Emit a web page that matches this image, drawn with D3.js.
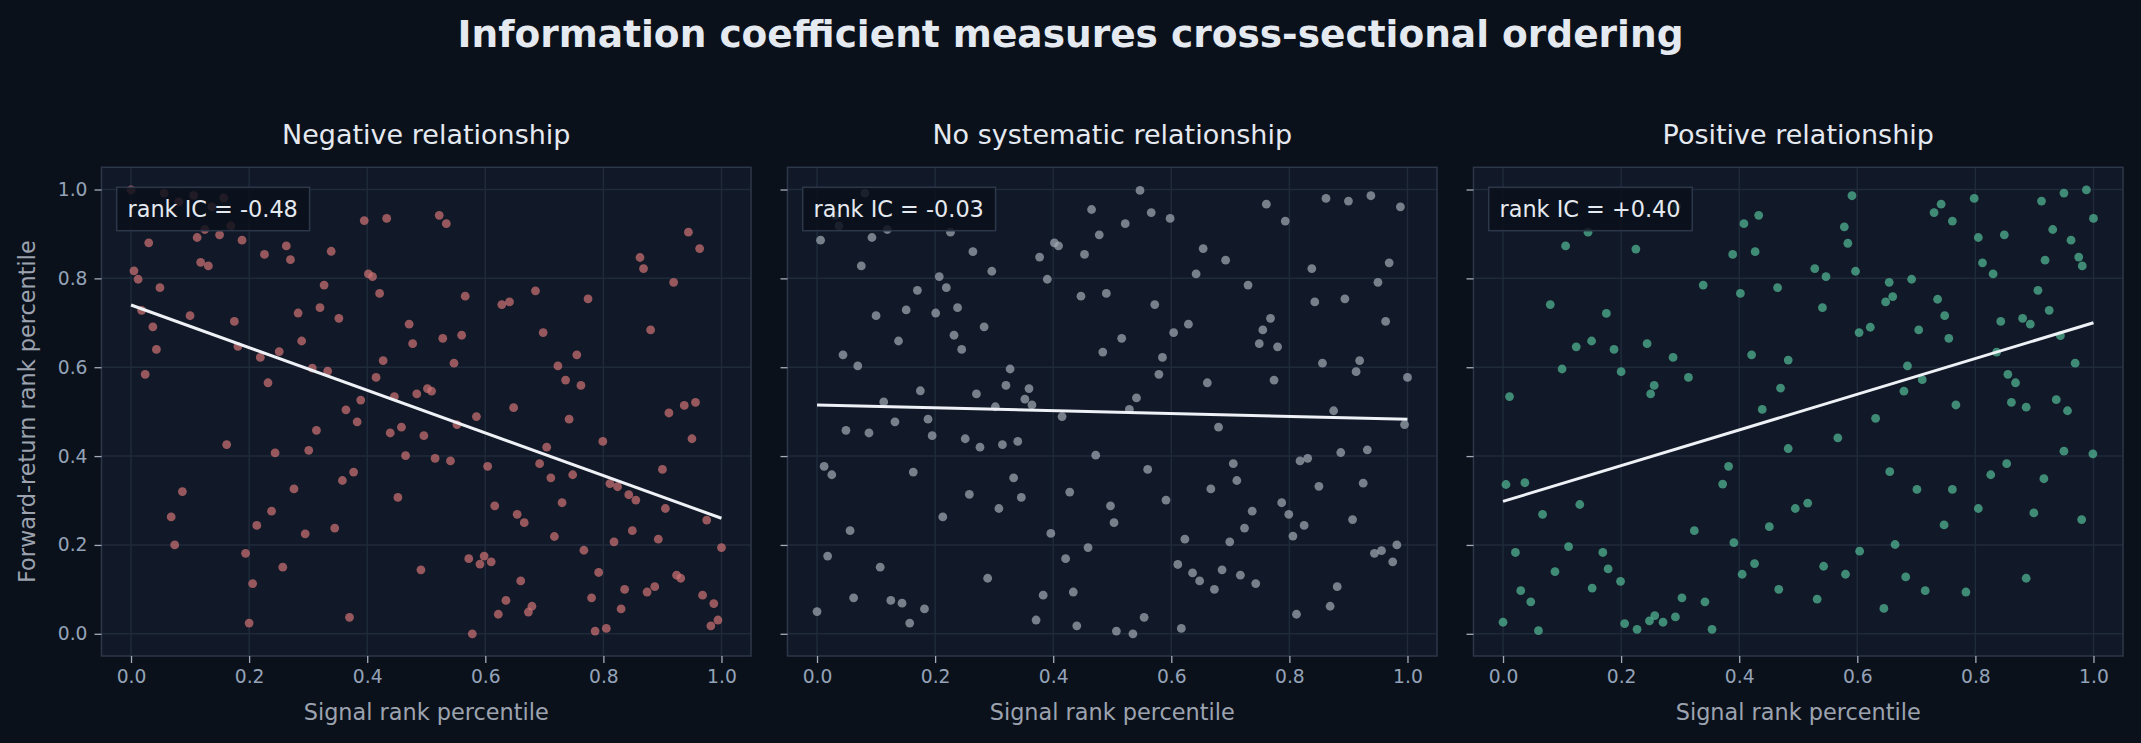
<!DOCTYPE html>
<html>
<head>
<meta charset="utf-8">
<script src="https://cdn.jsdelivr.net/npm/d3@7"></script>
<style>
  html, body { margin: 0; padding: 0; background: #0b111b; }
  svg { display: block; }
</style>
</head>
<body>
<div id="chart"></div>
<script>
// ── Data ──────────────────────────────────────
const PANEL_TITLES = ["Negative relationship", "No systematic relationship", "Positive relationship"];
const IC_LABELS    = ["rank IC = -0.48", "rank IC = -0.03", "rank IC = +0.40"];
const TICKS        = [0, 0.2, 0.4, 0.6, 0.8, 1.0];

// fitted line: y at x=0 and at x=1
const FIT_NEG  = [0.740, 0.260];
const FIT_NONE = [0.515, 0.483];
const FIT_POS  = [0.298, 0.700];

const NEG_POINTS = [
  [0.000,0.999],[0.056,0.992],[0.081,0.972],[0.106,0.987],[0.137,0.961],[0.157,0.981],[0.169,0.918],[0.125,0.910],
  [0.112,0.892],[0.150,0.898],[0.188,0.886],[0.030,0.880],[0.395,0.930],[0.433,0.935],[0.226,0.854],[0.263,0.873],
  [0.270,0.842],[0.339,0.861],[0.118,0.836],[0.131,0.828],[0.005,0.817],[0.012,0.798],[0.049,0.779],[0.402,0.810],
  [0.409,0.804],[0.327,0.785],[0.421,0.766],[0.018,0.728],[0.100,0.716],[0.175,0.703],[0.037,0.691],[0.283,0.722],
  [0.320,0.734],[0.352,0.710],[0.471,0.697],[0.043,0.640],[0.181,0.647],[0.289,0.659],[0.477,0.653],[0.219,0.622],
  [0.251,0.635],[0.427,0.615],[0.307,0.598],[0.333,0.591],[0.024,0.584],[0.232,0.565],[0.415,0.577],[0.389,0.526],
  [0.446,0.534],[0.484,0.540],[0.502,0.552],[0.364,0.504],[0.522,0.942],[0.534,0.923],[0.944,0.904],[0.963,0.867],
  [0.862,0.847],[0.868,0.822],[0.919,0.791],[0.566,0.760],[0.628,0.741],[0.641,0.747],[0.685,0.772],[0.774,0.754],
  [0.528,0.665],[0.560,0.672],[0.698,0.678],[0.880,0.684],[0.547,0.609],[0.755,0.628],[0.723,0.603],[0.736,0.571],
  [0.762,0.559],[0.509,0.546],[0.648,0.509],[0.937,0.514],[0.956,0.521],[0.911,0.497],[0.383,0.477],[0.314,0.458],
  [0.439,0.452],[0.458,0.465],[0.496,0.446],[0.162,0.426],[0.244,0.407],[0.301,0.413],[0.465,0.401],[0.377,0.364],
  [0.358,0.345],[0.276,0.326],[0.087,0.320],[0.452,0.307],[0.068,0.263],[0.238,0.276],[0.213,0.244],[0.345,0.238],
  [0.295,0.225],[0.074,0.200],[0.194,0.181],[0.257,0.150],[0.206,0.113],[0.491,0.144],[0.370,0.037],[0.200,0.024],
  [0.585,0.489],[0.552,0.471],[0.742,0.483],[0.950,0.439],[0.799,0.433],[0.704,0.420],[0.515,0.395],[0.541,0.389],
  [0.604,0.377],[0.692,0.383],[0.900,0.370],[0.711,0.351],[0.748,0.358],[0.811,0.338],[0.824,0.331],[0.843,0.313],
  [0.855,0.301],[0.616,0.288],[0.730,0.295],[0.905,0.282],[0.654,0.269],[0.666,0.250],[0.975,0.256],[0.717,0.219],
  [0.849,0.232],[0.893,0.213],[0.818,0.207],[1.000,0.194],[0.767,0.188],[0.572,0.169],[0.598,0.175],[0.591,0.157],
  [0.610,0.162],[0.792,0.138],[0.924,0.132],[0.931,0.125],[0.660,0.119],[0.836,0.100],[0.874,0.094],[0.887,0.106],
  [0.968,0.087],[0.987,0.068],[0.635,0.075],[0.679,0.062],[0.673,0.049],[0.622,0.044],[0.780,0.081],[0.830,0.056],
  [0.982,0.018],[0.994,0.031],[0.578,0.000],[0.786,0.006],[0.805,0.012]
];

const NONE_POINTS = [
  [0.081,0.992],[0.031,0.942],[0.037,0.918],[0.119,0.910],[0.226,0.904],[0.006,0.886],[0.093,0.892],[0.465,0.955],
  [0.478,0.898],[0.402,0.880],[0.409,0.873],[0.453,0.854],[0.264,0.860],[0.377,0.848],[0.296,0.816],[0.075,0.828],
  [0.207,0.804],[0.219,0.779],[0.170,0.773],[0.390,0.798],[0.447,0.760],[0.490,0.766],[0.100,0.716],[0.151,0.729],
  [0.201,0.722],[0.238,0.734],[0.283,0.691],[0.138,0.659],[0.232,0.672],[0.245,0.640],[0.484,0.634],[0.044,0.628],
  [0.069,0.603],[0.327,0.596],[0.320,0.559],[0.359,0.552],[0.175,0.547],[0.270,0.540],[0.352,0.528],[0.113,0.522],
  [0.302,0.511],[0.364,0.515],[0.547,0.998],[0.522,0.923],[0.566,0.948],[0.598,0.935],[0.761,0.967],[0.793,0.929],
  [0.862,0.980],[0.900,0.974],[0.938,0.986],[0.988,0.961],[0.654,0.867],[0.692,0.841],[0.642,0.810],[0.838,0.822],
  [0.969,0.835],[0.730,0.785],[0.950,0.791],[0.572,0.741],[0.843,0.747],[0.894,0.754],[0.768,0.710],[0.755,0.684],
  [0.749,0.653],[0.780,0.646],[0.963,0.703],[0.629,0.697],[0.604,0.678],[0.516,0.665],[0.585,0.622],[0.856,0.609],
  [0.919,0.615],[0.913,0.590],[0.579,0.584],[0.661,0.565],[0.774,0.571],[1.000,0.577],[0.541,0.531],[0.529,0.505],
  [0.875,0.502],[0.415,0.489],[0.049,0.458],[0.088,0.452],[0.132,0.477],[0.188,0.483],[0.195,0.446],[0.251,0.439],
  [0.276,0.420],[0.314,0.426],[0.340,0.433],[0.472,0.402],[0.012,0.377],[0.025,0.358],[0.163,0.364],[0.333,0.351],
  [0.258,0.314],[0.346,0.307],[0.428,0.319],[0.308,0.282],[0.497,0.288],[0.503,0.250],[0.213,0.263],[0.056,0.232],
  [0.396,0.226],[0.459,0.194],[0.018,0.175],[0.107,0.150],[0.421,0.169],[0.289,0.125],[0.062,0.081],[0.125,0.075],
  [0.144,0.069],[0.182,0.056],[0.383,0.087],[0.434,0.094],[0.000,0.050],[0.157,0.024],[0.371,0.031],[0.440,0.018],
  [0.507,0.006],[0.680,0.465],[0.995,0.471],[0.560,0.370],[0.705,0.383],[0.711,0.345],[0.667,0.326],[0.591,0.301],
  [0.818,0.389],[0.831,0.395],[0.887,0.408],[0.932,0.414],[0.850,0.332],[0.925,0.339],[0.787,0.295],[0.799,0.269],
  [0.737,0.276],[0.724,0.238],[0.825,0.244],[0.907,0.257],[0.806,0.220],[0.623,0.213],[0.699,0.207],[0.944,0.181],
  [0.956,0.187],[0.982,0.200],[0.975,0.162],[0.611,0.156],[0.636,0.137],[0.648,0.119],[0.686,0.144],[0.717,0.132],
  [0.743,0.113],[0.673,0.100],[0.881,0.106],[0.869,0.062],[0.812,0.044],[0.554,0.037],[0.535,0.000],[0.617,0.012]
];

const POS_POINTS = [
  [0.144,0.904],[0.106,0.873],[0.225,0.866],[0.294,0.962],[0.408,0.923],[0.433,0.942],[0.389,0.854],[0.427,0.860],
  [0.339,0.785],[0.402,0.766],[0.465,0.779],[0.080,0.741],[0.175,0.721],[0.124,0.646],[0.150,0.659],[0.188,0.640],
  [0.244,0.653],[0.288,0.622],[0.421,0.628],[0.483,0.616],[0.100,0.596],[0.200,0.590],[0.314,0.577],[0.256,0.559],
  [0.250,0.540],[0.470,0.553],[0.011,0.534],[0.439,0.505],[0.591,0.986],[0.578,0.916],[0.584,0.879],[0.597,0.816],
  [0.528,0.822],[0.547,0.804],[0.541,0.734],[0.730,0.948],[0.742,0.967],[0.761,0.929],[0.798,0.980],[0.805,0.892],
  [0.849,0.898],[0.812,0.835],[0.830,0.810],[0.912,0.974],[0.950,0.992],[0.988,0.999],[1.000,0.935],[0.931,0.910],
  [0.962,0.886],[0.975,0.848],[0.981,0.828],[0.918,0.841],[0.654,0.791],[0.692,0.798],[0.660,0.759],[0.648,0.747],
  [0.736,0.753],[0.748,0.716],[0.906,0.773],[0.925,0.728],[0.843,0.703],[0.880,0.710],[0.893,0.697],[0.603,0.678],
  [0.622,0.690],[0.704,0.684],[0.755,0.665],[0.944,0.671],[0.836,0.634],[0.969,0.609],[0.685,0.603],[0.710,0.572],
  [0.679,0.546],[0.855,0.584],[0.868,0.565],[0.861,0.521],[0.886,0.510],[0.937,0.527],[0.767,0.515],[0.956,0.502],
  [0.000,0.026],[0.005,0.336],[0.037,0.340],[0.021,0.183],[0.030,0.097],[0.047,0.072],[0.060,0.007],[0.067,0.269],
  [0.088,0.140],[0.111,0.196],[0.130,0.291],[0.151,0.103],[0.169,0.183],[0.178,0.146],[0.199,0.118],[0.206,0.023],
  [0.227,0.010],[0.248,0.029],[0.257,0.041],[0.271,0.026],[0.292,0.038],[0.303,0.081],[0.324,0.232],[0.342,0.072],
  [0.354,0.010],[0.372,0.337],[0.382,0.377],[0.391,0.205],[0.405,0.134],[0.426,0.158],[0.451,0.241],[0.467,0.100],
  [0.483,0.417],[0.495,0.282],[0.516,0.294],[0.532,0.078],[0.543,0.152],[0.567,0.441],[0.580,0.134],[0.604,0.186],
  [0.631,0.485],[0.645,0.057],[0.655,0.365],[0.664,0.201],[0.682,0.128],[0.701,0.325],[0.715,0.097],[0.747,0.245],
  [0.761,0.325],[0.784,0.094],[0.805,0.282],[0.826,0.358],[0.853,0.383],[0.886,0.125],[0.899,0.272],[0.916,0.349],
  [0.950,0.411],[0.980,0.257],[0.999,0.405]
];

const PANELS = [
  { points: NEG_POINTS,  fit: FIT_NEG,  color: "#cc7173" },
  { points: NONE_POINTS, fit: FIT_NONE, color: "#a0a7b3" },
  { points: POS_POINTS,  fit: FIT_POS,  color: "#52b896" }
];

// ── Layout ───────────────────────────────────
const W = 2141, H = 743;
const FONT = "'DejaVu Sans', sans-serif";
const panelW = 649.5, panelH = 488.7;
const left0 = 101.5, top0 = 167.3, gap = 36.5;

const svg = d3.select("#chart").append("svg")
  .attr("width", W).attr("height", H);

svg.append("rect").attr("width", W).attr("height", H).attr("fill", "#0b111b");

svg.append("text")
  .attr("x", W / 2).attr("y", 46.5)
  .attr("text-anchor", "middle")
  .attr("font-family", FONT).attr("font-weight", "bold")
  .attr("font-size", "37.5px").attr("fill", "#e5e9f0")
  .text("Information coefficient measures cross-sectional ordering");

const x = d3.scaleLinear().domain([-0.05, 1.05]).range([0, panelW]);
const y = d3.scaleLinear().domain([-0.05, 1.05]).range([panelH, 0]);

PANELS.forEach((p, i) => {
  const g = svg.append("g")
    .attr("transform", `translate(${left0 + i * (panelW + gap)},${top0})`);

  g.append("rect")
    .attr("width", panelW).attr("height", panelH)
    .attr("fill", "#111827");

  // grid
  g.append("g").selectAll("line").data(TICKS).join("line")
    .attr("x1", d => x(d)).attr("x2", d => x(d))
    .attr("y1", 0).attr("y2", panelH)
    .attr("stroke", "#1f2a3b").attr("stroke-width", 1.5);
  g.append("g").selectAll("line").data(TICKS).join("line")
    .attr("y1", d => y(d)).attr("y2", d => y(d))
    .attr("x1", 0).attr("x2", panelW)
    .attr("stroke", "#1f2a3b").attr("stroke-width", 1.5);

  // points
  g.append("g").selectAll("circle").data(p.points).join("circle")
    .attr("cx", d => x(d[0])).attr("cy", d => y(d[1]))
    .attr("r", 4.4)
    .attr("fill", p.color).attr("fill-opacity", 0.72);

  // fitted line
  g.append("line")
    .attr("x1", x(0)).attr("y1", y(p.fit[0]))
    .attr("x2", x(1)).attr("y2", y(p.fit[1]))
    .attr("stroke", "#eef1f6").attr("stroke-width", 3);

  // frame
  g.append("rect")
    .attr("width", panelW).attr("height", panelH)
    .attr("fill", "none").attr("stroke", "#2c3749").attr("stroke-width", 1.5);

  // x axis
  const xAxis = g.append("g")
    .attr("transform", `translate(0,${panelH})`)
    .call(d3.axisBottom(x).tickValues(TICKS).tickFormat(d3.format(".1f"))
      .tickSize(7).tickPadding(7));
  xAxis.select(".domain").remove();
  xAxis.selectAll(".tick line").attr("stroke", "#a3acba").attr("stroke-width", 1.3);
  xAxis.selectAll("text")
    .attr("font-family", FONT).attr("font-size", "18.7px").attr("fill", "#94a3b8");

  // y axis (labels only on first panel)
  const yAxis = g.append("g")
    .call(d3.axisLeft(y).tickValues(TICKS)
      .tickFormat(i === 0 ? d3.format(".1f") : "")
      .tickSize(7).tickPadding(7));
  yAxis.select(".domain").remove();
  yAxis.selectAll(".tick line").attr("stroke", "#a3acba").attr("stroke-width", 1.3);
  yAxis.selectAll("text")
    .attr("font-family", FONT).attr("font-size", "18.7px").attr("fill", "#94a3b8");

  g.append("text")
    .attr("x", panelW / 2).attr("y", panelH + 64)
    .attr("text-anchor", "middle")
    .attr("font-family", FONT).attr("font-size", "22.4px").attr("fill", "#9ca3af")
    .text("Signal rank percentile");

  if (i === 0) {
    g.append("text")
      .attr("transform", `translate(${-67},${panelH / 2}) rotate(-90)`)
      .attr("text-anchor", "middle")
      .attr("font-family", FONT).attr("font-size", "22.4px").attr("fill", "#9ca3af")
      .text("Forward-return rank percentile");
  }

  // panel title
  g.append("text")
    .attr("x", panelW / 2).attr("y", -23.3)
    .attr("text-anchor", "middle")
    .attr("font-family", FONT).attr("font-size", "27px").attr("fill", "#e5e9f0")
    .text(PANEL_TITLES[i]);

  // IC box
  const box = g.append("g");
  const boxRect = box.append("rect");
  const label = box.append("text")
    .attr("x", 26).attr("y", 41.7)
    .attr("dominant-baseline", "central")
    .attr("font-family", FONT).attr("font-size", "22.4px").attr("fill", "#e5e9f0")
    .text(IC_LABELS[i]);
  const tw = label.node().getComputedTextLength();
  boxRect
    .attr("x", 15.2).attr("y", 20)
    .attr("width", tw + 22.5).attr("height", 43.4)
    .attr("fill", "#0b111b").attr("fill-opacity", 0.85)
    .attr("stroke", "#2c3749").attr("stroke-width", 1.5);
});
</script>
</body>
</html>
